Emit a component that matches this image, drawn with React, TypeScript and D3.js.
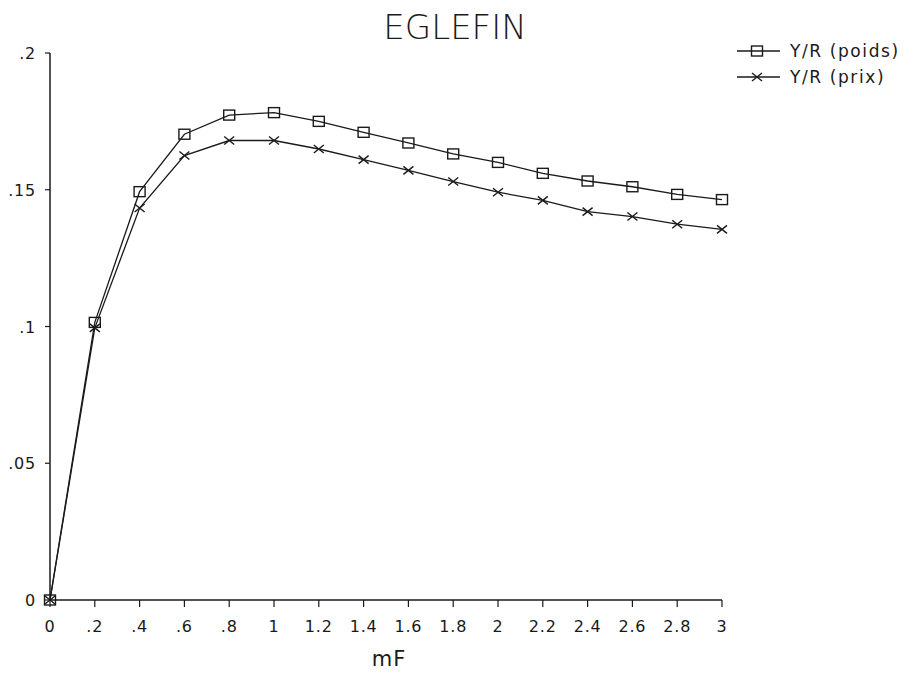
import React from "react";
import * as d3 from "d3";

const mF = [0, 0.2, 0.4, 0.6, 0.8, 1, 1.2, 1.4, 1.6, 1.8, 2, 2.2, 2.4, 2.6, 2.8, 3];
const yrPoids = [0, 0.1015, 0.1493, 0.1703, 0.1773, 0.1782, 0.1750, 0.1710, 0.1671, 0.1631, 0.1600, 0.1560, 0.1532, 0.1511, 0.1483, 0.1464];
const yrPrix = [0, 0.0995, 0.1433, 0.1625, 0.1680, 0.1680, 0.1649, 0.1610, 0.1571, 0.1530, 0.1491, 0.1461, 0.1420, 0.1402, 0.1374, 0.1355];
const xTicks = [0, 0.2, 0.4, 0.6, 0.8, 1, 1.2, 1.4, 1.6, 1.8, 2, 2.2, 2.4, 2.6, 2.8, 3];
const yTicks = [0, 0.05, 0.1, 0.15, 0.2];
const seriesNames = ["Y/R (poids)", "Y/R (prix)"];
const title = "EGLEFIN";
const xTitle = "mF";

const W = 912, H = 674;
const left = 50, right = 722, top = 53, bottom = 600;

const fmt = (v: number) => {
  if (v === 0) return "0";
  const s = String(+v.toFixed(2));
  return s.startsWith("0.") ? s.slice(1) : s;
};

const ink = "#1a1a1a";

function Square({ x, y }: { x: number; y: number }) {
  return <rect x={x - 5.5} y={y - 5} width={11} height={10} fill="none" stroke={ink} strokeWidth={1.4} />;
}
function Cross({ x, y }: { x: number; y: number }) {
  return (
    <path d={`M${x - 5},${y - 4}L${x + 5},${y + 4}M${x - 5},${y + 4}L${x + 5},${y - 4}`} stroke={ink} strokeWidth={1.4} fill="none" />
  );
}

export default function App() {
  const xs = d3.scaleLinear().domain([0, 3]).range([left, right]);
  const ys = d3.scaleLinear().domain([0, 0.2]).range([bottom, top]);
  const line = d3.line<number>().x((_, i) => xs(mF[i])).y((d) => ys(d));
  const font = "'DejaVu Sans', sans-serif";
  return (
    <div style={{ position: "absolute", left: 0, top: 0 }}>
      <svg width={W} height={H} style={{ display: "block", background: "#fff" }}>
        <text x={455} y={39} textAnchor="middle" fontFamily={font} fontWeight={200} fontSize={34} fill={ink}>
          {title}
        </text>
        {/* axes */}
        <line x1={left} x2={left} y1={top} y2={bottom} stroke={ink} strokeWidth={1.5} />
        <line x1={left} x2={right} y1={bottom} y2={bottom} stroke={ink} strokeWidth={1.5} />
        {yTicks.map((t) => (
          <g key={"y" + t}>
            <line x1={left - 5} x2={left} y1={ys(t)} y2={ys(t)} stroke={ink} strokeWidth={1.2} />
            <text x={left - 14} y={ys(t) + 6} textAnchor="end" fontFamily={font} fontSize={16} letterSpacing={0.8} fill={ink}>
              {fmt(t)}
            </text>
          </g>
        ))}
        {xTicks.map((t) => (
          <g key={"x" + t}>
            <line x1={xs(t)} x2={xs(t)} y1={bottom} y2={bottom + 7} stroke={ink} strokeWidth={1.2} />
            <text x={xs(t)} y={bottom + 32} textAnchor="middle" fontFamily={font} fontSize={16} letterSpacing={0.8} fill={ink}>
              {fmt(t)}
            </text>
          </g>
        ))}
        <text x={389} y={665.5} textAnchor="middle" fontFamily={font} fontSize={21} letterSpacing={1} fill={ink}>
          {xTitle}
        </text>
        {/* series */}
        <path d={line(yrPoids) || ""} fill="none" stroke={ink} strokeWidth={1.3} />
        <path d={line(yrPrix) || ""} fill="none" stroke={ink} strokeWidth={1.3} />
        {yrPoids.map((v, i) => (
          <Square key={"s" + i} x={xs(mF[i])} y={ys(v)} />
        ))}
        {yrPrix.map((v, i) => (
          <Cross key={"c" + i} x={xs(mF[i])} y={ys(v)} />
        ))}
        {/* legend */}
        <g>
          <line x1={737} x2={780} y1={51} y2={51} stroke={ink} strokeWidth={1.3} />
          <Square x={757} y={51} />
          <text x={790} y={57} fontFamily={font} fontSize={17} letterSpacing={1.6} fill={ink}>
            {seriesNames[0]}
          </text>
          <line x1={737} x2={780} y1={77} y2={77} stroke={ink} strokeWidth={1.3} />
          <Cross x={757} y={77} />
          <text x={790} y={83} fontFamily={font} fontSize={17} letterSpacing={1.6} fill={ink}>
            {seriesNames[1]}
          </text>
        </g>
      </svg>
    </div>
  );
}
